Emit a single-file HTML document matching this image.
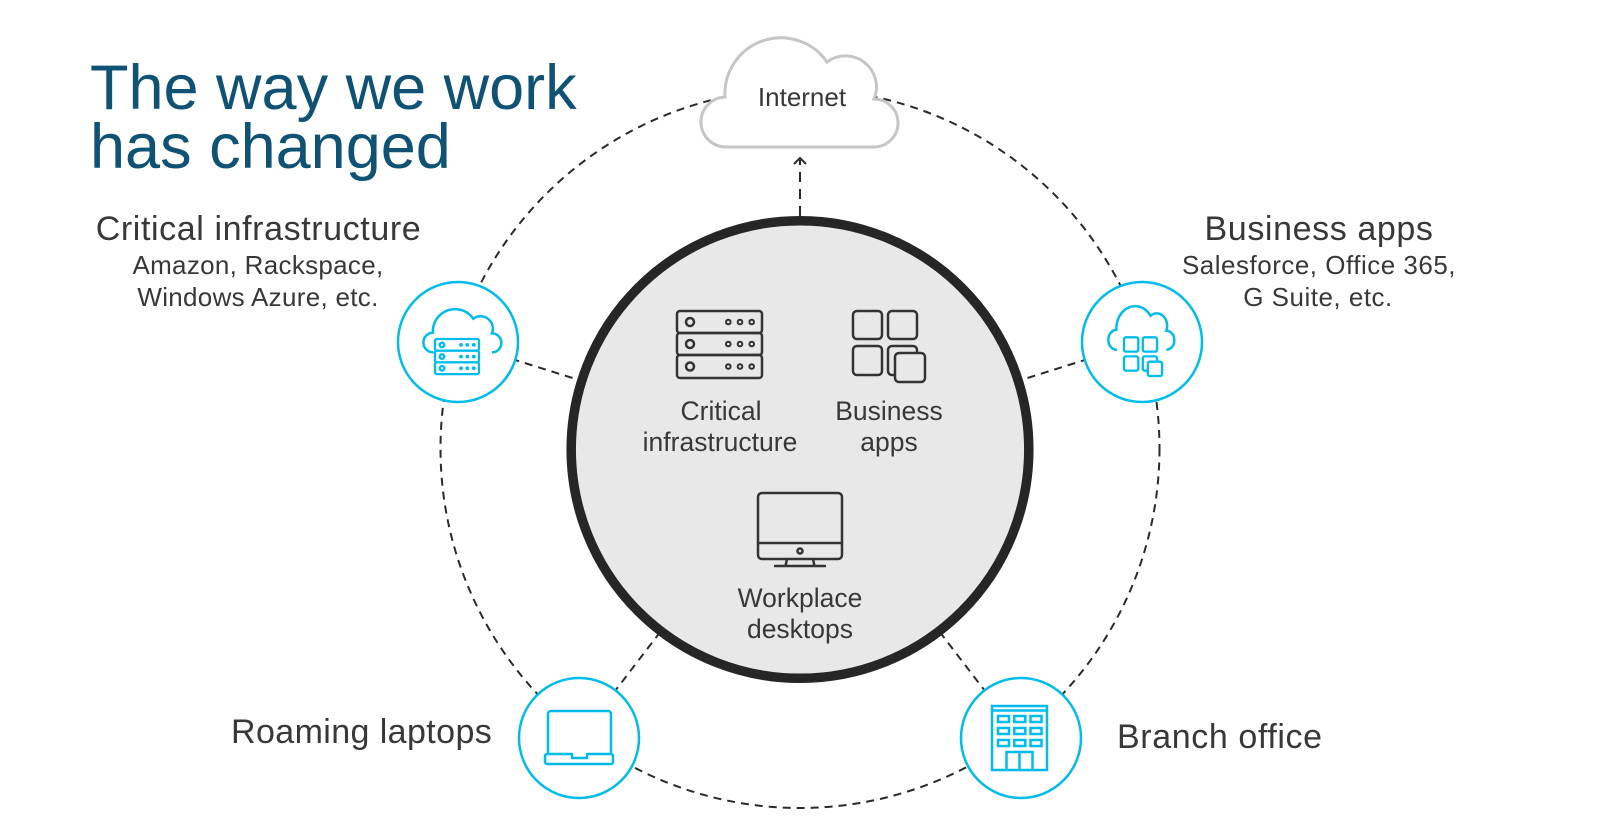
<!DOCTYPE html>
<html>
<head>
<meta charset="utf-8">
<style>
  html, body { margin: 0; padding: 0; background: #fff; }
  body { width: 1600px; height: 822px; overflow: hidden; }
  svg { display: block; }
  text { font-family: "Liberation Sans", Arial, sans-serif; }
</style>
</head>
<body>
<svg width="1600" height="822" viewBox="0 0 1600 822" xmlns="http://www.w3.org/2000/svg">
  <rect x="0" y="0" width="1600" height="822" fill="#ffffff"/>

  <!-- Title -->
  <text x="90" y="109" font-size="63" fill="#0f5274">The way we work</text>
  <text x="90" y="168" font-size="63" fill="#0f5274">has changed</text>

  <!-- dashed ring -->
  <circle cx="800" cy="448.5" r="359.5" fill="none" stroke="#2a2a2a" stroke-width="2" stroke-dasharray="8 6"/>

  <!-- spokes -->
  <g stroke="#2a2a2a" stroke-width="2" stroke-dasharray="8 6" fill="none">
    <line x1="458" y1="342" x2="800" y2="449.5"/>
    <line x1="1142" y1="342" x2="800" y2="449.5"/>
    <line x1="579" y1="738" x2="800" y2="449.5"/>
    <line x1="1021" y1="738" x2="800" y2="449.5"/>
  </g>

  <!-- Internet arrow -->
  <line x1="800" y1="216" x2="800" y2="160" stroke="#2a2a2a" stroke-width="2" stroke-dasharray="10 7"/>
  <polyline points="794,164 800,158 806,164" fill="none" stroke="#2a2a2a" stroke-width="2"/>

  <!-- Big central circle -->
  <circle cx="800" cy="449.5" r="228.8" fill="#e8e8e8" stroke="#262626" stroke-width="9.5"/>

  <!-- Internet cloud -->
  <path d="M727,147 A25,25 0 0 1 725,97 A56,56 0 0 1 827,62 A31,31 0 0 1 874,99 A24,24 0 0 1 874,147 Z" fill="#ffffff" stroke="#c6c6c6" stroke-width="3"/>
  <text x="802" y="106" font-size="26" fill="#383838" text-anchor="middle">Internet</text>

  <!-- Small cyan circles -->
  <g fill="#ffffff" stroke="#00bceb" stroke-width="2.5">
    <circle cx="458" cy="342" r="60"/>
    <circle cx="1142" cy="342" r="60"/>
    <circle cx="579" cy="738" r="60"/>
    <circle cx="1021" cy="738" r="60"/>
  </g>

  <!-- Left icon: cloud + server -->
  <g transform="translate(423,310) scale(0.396) translate(-700,-40)">
    <path d="M727,147 A25,25 0 0 1 725,97 A56,56 0 0 1 827,62 A31,31 0 0 1 874,99 A24,24 0 0 1 874,147" fill="none" stroke="#00bceb" stroke-width="2.5" vector-effect="non-scaling-stroke"/>
  </g>
  <g stroke="#00bceb" stroke-width="2.3" fill="#ffffff">
    <rect x="435" y="339" width="44" height="11.7" rx="2"/>
    <rect x="435" y="350.7" width="44" height="11.7" rx="2"/>
    <rect x="435" y="362.4" width="44" height="11.7" rx="2"/>
    <circle cx="442" cy="344.9" r="2.3"/>
    <circle cx="442" cy="356.6" r="2.3"/>
    <circle cx="442" cy="368.3" r="2.3"/>
  </g>
  <g fill="#00bceb">
    <circle cx="461" cy="344.9" r="1.9"/><circle cx="467.3" cy="344.9" r="1.9"/><circle cx="473.8" cy="344.9" r="1.9"/>
    <circle cx="461" cy="356.6" r="1.9"/><circle cx="467.3" cy="356.6" r="1.9"/><circle cx="473.8" cy="356.6" r="1.9"/>
    <circle cx="461" cy="368.3" r="1.9"/><circle cx="467.3" cy="368.3" r="1.9"/><circle cx="473.8" cy="368.3" r="1.9"/>
  </g>

  <!-- Right icon: cloud + apps -->
  <g transform="translate(1108,307) scale(0.335,0.4) translate(-700,-40)">
    <path d="M727,147 A25,25 0 0 1 725,97 A56,56 0 0 1 827,62 A31,31 0 0 1 874,99 A24,24 0 0 1 874,147" fill="none" stroke="#00bceb" stroke-width="2.5" vector-effect="non-scaling-stroke"/>
  </g>
  <g stroke="#00bceb" stroke-width="2.3" fill="#ffffff">
    <rect x="1124" y="337.3" width="14.3" height="14.3" rx="2"/>
    <rect x="1142.8" y="337.3" width="14.3" height="14.3" rx="2"/>
    <rect x="1124" y="356.4" width="14.3" height="14.3" rx="2"/>
    <rect x="1142.8" y="356.4" width="14.3" height="14.3" rx="2"/>
    <rect x="1147.8" y="361.7" width="14.3" height="14.3" rx="2"/>
  </g>

  <!-- Laptop icon -->
  <g fill="none" stroke="#00bceb" stroke-width="2.5" stroke-linejoin="round">
    <path d="M548,754 V714 A3,3 0 0 1 551,711 H608 A3,3 0 0 1 611,714 V754"/>
    <path d="M545,756 A2,2 0 0 1 547,754 H572 V758 H587 V754 H611 A2,2 0 0 1 613,756 V762 A2,2 0 0 1 611,764 H547 A2,2 0 0 1 545,762 Z"/>
  </g>

  <!-- Building icon -->
  <g fill="none" stroke="#00bceb" stroke-width="2.5">
    <rect x="992" y="706" width="55" height="64"/>
    <line x1="992" y1="710.5" x2="1047" y2="710.5"/>
    <rect x="998" y="716" width="11" height="6"/>
    <rect x="1014.3" y="716" width="11" height="6"/>
    <rect x="1030.5" y="716" width="11" height="6"/>
    <rect x="998" y="728" width="11" height="6"/>
    <rect x="1014.3" y="728" width="11" height="6"/>
    <rect x="1030.5" y="728" width="11" height="6"/>
    <rect x="998" y="740" width="11" height="6"/>
    <rect x="1014.3" y="740" width="11" height="6"/>
    <rect x="1030.5" y="740" width="11" height="6"/>
    <path d="M1006.5,770 V752 H1032.5 V770"/>
    <line x1="1019.5" y1="752" x2="1019.5" y2="770"/>
  </g>

  <!-- Center: server icon -->
  <g fill="none" stroke="#333" stroke-width="2.5">
    <rect x="677" y="311" width="85" height="22" rx="3"/>
    <rect x="677" y="333" width="85" height="22" rx="3"/>
    <rect x="677" y="355" width="85" height="23" rx="3"/>
    <circle cx="690" cy="322" r="4"/>
    <circle cx="690" cy="344" r="4"/>
    <circle cx="690" cy="366.5" r="4"/>
  </g>
  <g fill="none" stroke="#333" stroke-width="2">
    <circle cx="728.3" cy="322" r="2.3"/><circle cx="740" cy="322" r="2.3"/><circle cx="751.7" cy="322" r="2.3"/>
    <circle cx="728.3" cy="344" r="2.3"/><circle cx="740" cy="344" r="2.3"/><circle cx="751.7" cy="344" r="2.3"/>
    <circle cx="728.3" cy="366.5" r="2.3"/><circle cx="740" cy="366.5" r="2.3"/><circle cx="751.7" cy="366.5" r="2.3"/>
  </g>

  <!-- Center: business apps icon -->
  <g fill="#e8e8e8" stroke="#333" stroke-width="2.5">
    <rect x="853" y="311" width="29" height="28" rx="4"/>
    <rect x="888" y="311" width="29" height="28" rx="4"/>
    <rect x="853" y="346" width="29" height="29" rx="4"/>
    <rect x="888" y="346" width="29" height="29" rx="4"/>
    <rect x="895" y="353" width="30" height="29" rx="4"/>
  </g>

  <!-- Center: monitor icon -->
  <g fill="none" stroke="#333" stroke-width="2.5">
    <rect x="758" y="493" width="84" height="66" rx="4"/>
    <line x1="758" y1="543" x2="842" y2="543"/>
    <circle cx="800" cy="551" r="2.5"/>
    <line x1="787" y1="559" x2="785.5" y2="566"/>
    <line x1="813" y1="559" x2="814.5" y2="566"/>
    <line x1="774" y1="566" x2="826" y2="566"/>
  </g>

  <!-- Center labels -->
  <g font-size="26.5" fill="#383838" text-anchor="middle">
    <text x="721" y="420">Critical</text>
    <text x="720" y="451">infrastructure</text>
    <text x="889" y="420">Business</text>
    <text x="889" y="451">apps</text>
    <text x="800" y="607">Workplace</text>
    <text x="800" y="638">desktops</text>
  </g>

  <!-- Side labels -->
  <g fill="#383838">
    <text x="258.5" y="240" font-size="34" letter-spacing="0.6" text-anchor="middle">Critical infrastructure</text>
    <text x="258" y="274" font-size="26" letter-spacing="0.3" text-anchor="middle">Amazon, Rackspace,</text>
    <text x="258" y="306" font-size="26" letter-spacing="0.3" text-anchor="middle">Windows Azure, etc.</text>

    <text x="1319" y="240" font-size="34" letter-spacing="0.6" text-anchor="middle">Business apps</text>
    <text x="1319" y="274" font-size="26" letter-spacing="0.5" text-anchor="middle">Salesforce, Office 365,</text>
    <text x="1318" y="306" font-size="26" letter-spacing="0.5" text-anchor="middle">G Suite, etc.</text>

    <text x="231" y="743" font-size="34" letter-spacing="0.4">Roaming laptops</text>
    <text x="1117" y="748" font-size="34" letter-spacing="0.6">Branch office</text>
  </g>
</svg>
</body>
</html>
